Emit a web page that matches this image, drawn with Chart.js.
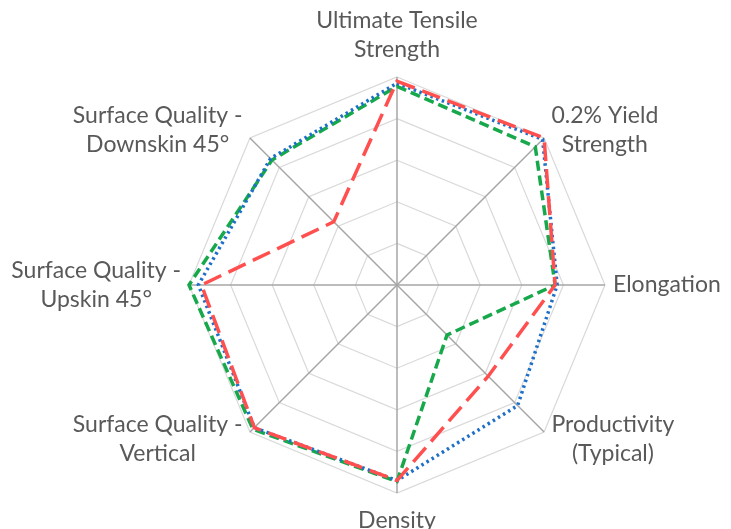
<!DOCTYPE html>
<html>
<head>
<meta charset="utf-8">
<script src="https://cdn.jsdelivr.net/npm/chart.js@4.4.1/dist/chart.umd.min.js"></script>
<style>
  html, body { margin: 0; padding: 0; background: #ffffff; }
  #wrap { width: 731px; height: 529px; position: relative; }
</style>
</head>
<body>
<div id="wrap"><canvas id="c"></canvas></div>
<script>
const categories = [
  ['Ultimate Tensile', 'Strength'],
  ['0.2% Yield', 'Strength'],
  'Elongation',
  ['Productivity', '(Typical)'],
  'Density',
  ['Surface Quality -', 'Vertical'],
  ['Surface Quality -', 'Upskin 45°'],
  ['Surface Quality -', 'Downskin 45°']
];
const seriesRed   = [98, 100, 76, 62, 94, 97, 94, 43];
const seriesBlue  = [97, 99, 77, 82, 94, 97, 95.5, 86];
const seriesGreen = [95.5, 94, 76, 34, 94.5, 98, 100, 85];
const scaleMin = 0, scaleMax = 100, scaleStep = 20;

// Draw axis labels Excel-style: centred multi-line blocks placed outward from each spoke.
const labelPlugin = {
  id: 'excelPointLabels',
  afterDatasetsDraw(chart) {
    const scale = chart.scales.r;
    const ctx = chart.ctx;
    const fontSize = 23, pitch = 29;
    ctx.save();
    ctx.font = fontSize + 'px Lato';
    ctx.fillStyle = '#595959';
    ctx.textBaseline = 'middle';
    ctx.textAlign = 'center';
    const labels = chart.data.labels;
    labels.forEach((lab, i) => {
      const lines = Array.isArray(lab) ? lab : [lab];
      const w = Math.max(...lines.map(l => ctx.measureText(l).width));
      const h = lines.length * pitch;
      const base = scale.getPointPosition(i, 0);
      const theta = base.angle + Math.PI / 2; // 0 at top, clockwise
      const s = Math.sin(theta), c = Math.cos(theta);
      const pad = 8 + 5 * c * c;
      const p = scale.getPointPosition(i, scale.drawingArea + pad);
      let cx, cy;
      if (Math.abs(s) < 0.01) {
        cx = p.x;
        cy = c > 0 ? p.y - h / 2 : p.y + h / 2;
      } else {
        cx = s > 0 ? p.x + w / 2 : p.x - w / 2;
        cy = p.y;
      }
      lines.forEach((l, k) => {
        ctx.fillText(l, cx, cy - h / 2 + pitch / 2 + k * pitch);
      });
    });
    ctx.restore();
  }
};

new Chart(document.getElementById('c'), {
  type: 'radar',
  data: {
    labels: categories,
    datasets: [
      { label: 'Red', data: seriesRed, borderColor: '#FF4F4F', borderWidth: 3.5,
        borderDash: [19, 8], fill: false, pointRadius: 0, tension: 0 },
      { label: 'Blue', data: seriesBlue, borderColor: '#1E6FC8', borderWidth: 3.5,
        borderDash: [2.5, 3.5], borderCapStyle: 'butt', fill: false, pointRadius: 0, tension: 0 },
      { label: 'Green', data: seriesGreen, borderColor: '#16A84A', borderWidth: 3.5,
        borderDash: [10, 5], fill: false, pointRadius: 0, tension: 0 }
    ]
  },
  options: {
    responsive: true,
    maintainAspectRatio: false,
    animation: false,
    layout: { padding: { top: 77, bottom: 36, left: 189, right: 126 } },
    plugins: { legend: { display: false }, tooltip: { enabled: false } },
    scales: {
      r: {
        min: scaleMin, max: scaleMax,
        ticks: { display: false, stepSize: scaleStep },
        grid: { color: '#d9d9d9', lineWidth: 1.2 },
        angleLines: { color: '#a6a6a6', lineWidth: 1.5 },
        pointLabels: { display: false }
      }
    }
  },
  plugins: [labelPlugin]
});
</script>
</body>
</html>
